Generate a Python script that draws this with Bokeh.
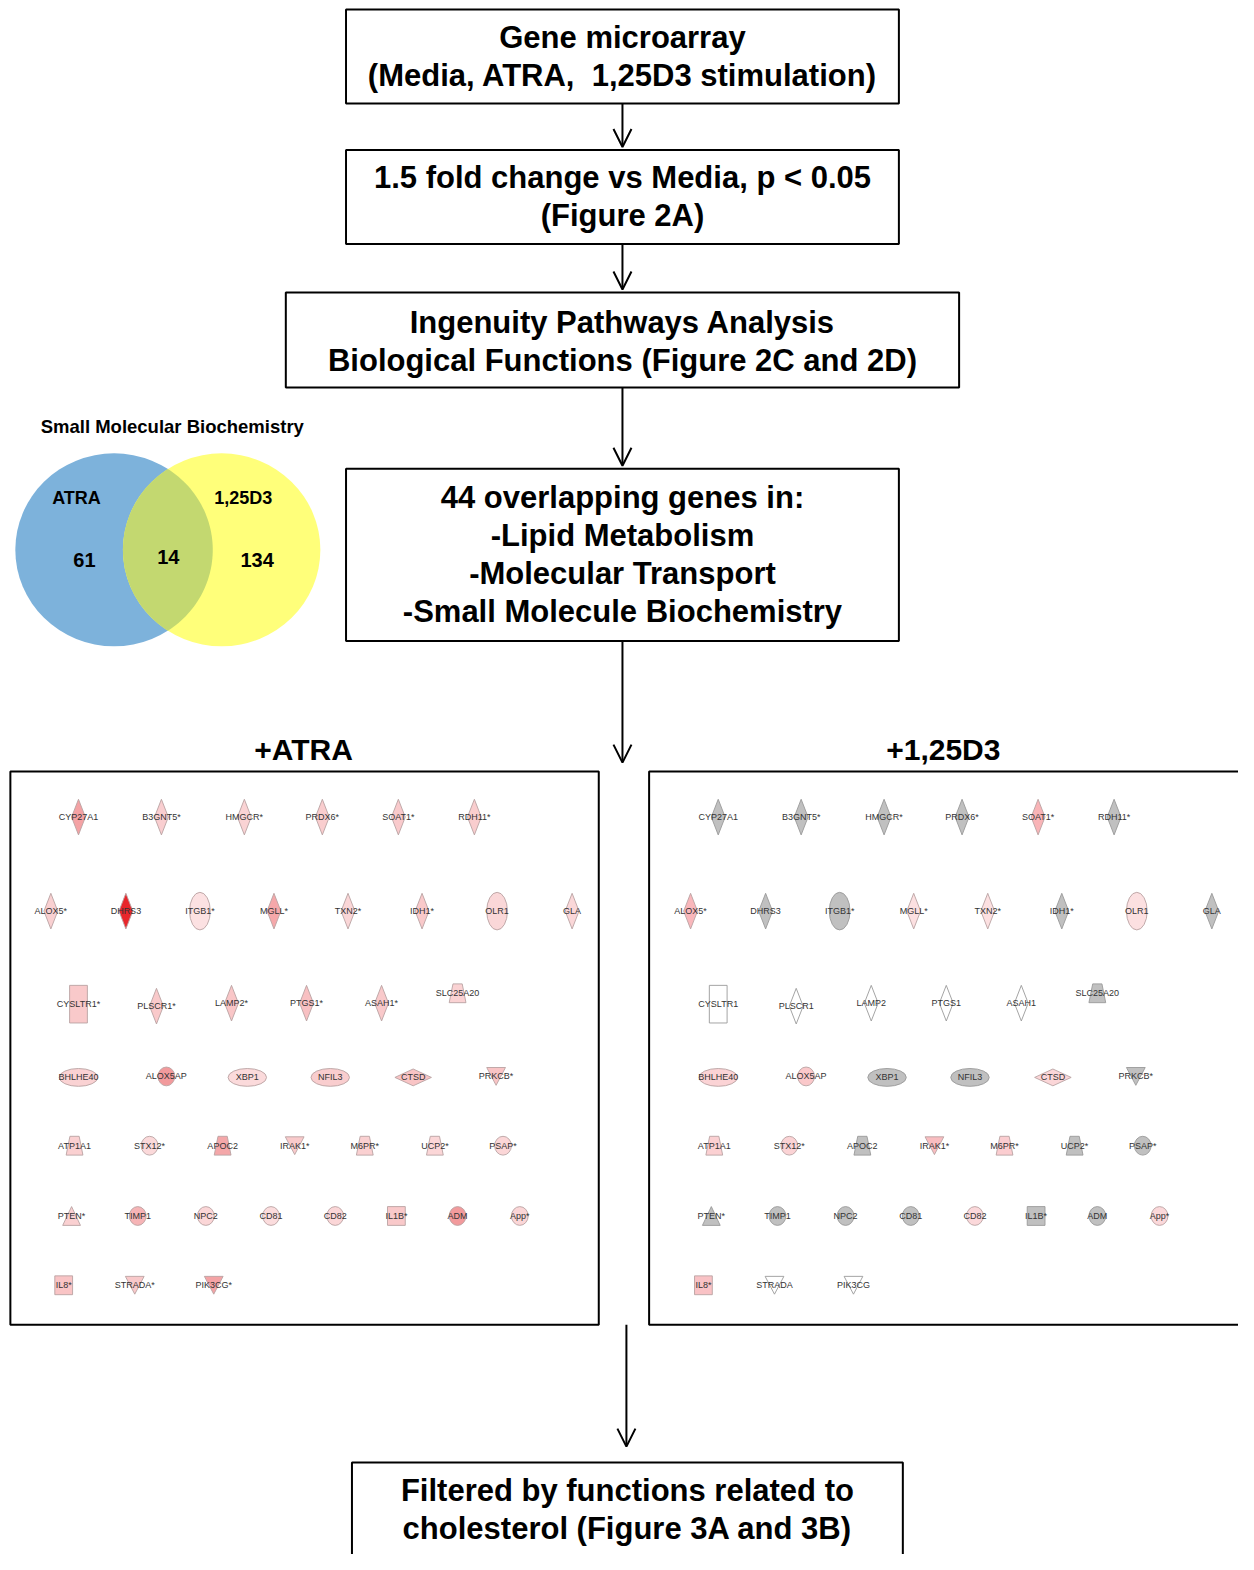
import numpy as np
from bokeh.plotting import figure
from bokeh.models import Range1d, Arrow, OpenHead
from bokeh.embed import file_html
from bokeh.resources import INLINE
from bokeh.core.properties import value

FONT = "Liberation Sans"

# ---------------- data ----------------
FLOW_STEPS = [
    ["Gene microarray", "(Media, ATRA,\u00a0 1,25D3 stimulation)"],
    ["1.5 fold change vs Media, p < 0.05", "(Figure 2A)"],
    ["Ingenuity Pathways Analysis", "Biological Functions (Figure 2C and 2D)"],
    ["44 overlapping genes in:", "-Lipid Metabolism", "-Molecular Transport",
     "-Small Molecule Biochemistry"],
    ["Filtered by functions related to", "cholesterol (Figure 3A and 3B)"],
]
VENN_TITLE = "Small Molecular Biochemistry"
VENN_SETS = ["ATRA", "1,25D3"]
VENN_COUNTS = [61, 14, 134]          # ATRA only, both, 1,25D3 only
PANEL_TITLES = ["+ATRA", "+1,25D3"]

LABELS_ATRA = [
    "CYP27A1", "B3GNT5*", "HMGCR*", "PRDX6*", "SOAT1*", "RDH11*",
    "ALOX5*", "DHRS3", "ITGB1*", "MGLL*", "TXN2*", "IDH1*", "OLR1", "GLA",
    "CYSLTR1*", "PLSCR1*", "LAMP2*", "PTGS1*", "ASAH1*", "SLC25A20",
    "BHLHE40", "ALOX5AP", "XBP1", "NFIL3", "CTSD", "PRKCB*",
    "ATP1A1", "STX12*", "APOC2", "IRAK1*", "M6PR*", "UCP2*", "PSAP*",
    "PTEN*", "TIMP1", "NPC2", "CD81", "CD82", "IL1B*", "ADM", "App*",
    "IL8*", "STRADA*", "PIK3CG*",
]
LABELS_D3 = [
    "CYP27A1", "B3GNT5*", "HMGCR*", "PRDX6*", "SOAT1*", "RDH11*",
    "ALOX5*", "DHRS3", "ITGB1*", "MGLL*", "TXN2*", "IDH1*", "OLR1", "GLA",
    "CYSLTR1", "PLSCR1", "LAMP2", "PTGS1", "ASAH1", "SLC25A20",
    "BHLHE40", "ALOX5AP", "XBP1", "NFIL3", "CTSD", "PRKCB*",
    "ATP1A1", "STX12*", "APOC2", "IRAK1*", "M6PR*", "UCP2*", "PSAP*",
    "PTEN*", "TIMP1", "NPC2", "CD81", "CD82", "IL1B*", "ADM", "App*",
    "IL8*", "STRADA", "PIK3CG",
]
# IPA molecule type shapes
SHAPES = [
    "dt", "dt", "dt", "dt", "dt", "dt",
    "dt", "dt", "ev", "dt", "dt", "dt", "ev", "dt",
    "rv", "dt", "dt", "dt", "dt", "tz",
    "eh", "c", "eh", "eh", "dh", "td",
    "tz", "c", "tz", "td", "tz", "tz", "c",
    "tu", "c", "c", "c", "c", "sq", "c", "c",
    "sq", "td", "td",
]
# node fill colours (expression level) for each treatment
COLORS_ATRA = [
    "#F4A2A4", "#F9CED0", "#FAD3D4", "#F9CDCE", "#F9CACC", "#F9CDCE",
    "#F9D0D1", "#E8262B", "#FCE1E2", "#F5A8AA", "#FAD6D7", "#F9C9CA", "#FAD7D8", "#FAD7D8",
    "#F9C9CA", "#F9C9CA", "#F9C6C7", "#F8C0C2", "#F9C9CA", "#FAD2D3",
    "#FAD2D3", "#F29A9C", "#FBDADB", "#F9CDCE", "#F9C4C5", "#F9C4C5",
    "#FAD0D1", "#FBD9DA", "#F4A7A9", "#F9CACB", "#FAD0D1", "#FBD6D7", "#FBD6D7",
    "#FAD0D1", "#F6B4B6", "#FBD6D7", "#FBDCDD", "#FBD6D7", "#F9C9CA", "#F29A9C", "#FBD6D7",
    "#F9C4C5", "#F9C9CA", "#F4A3A5",
]
G = "#C0C0C0"
W = "#FFFFFF"
COLORS_D3 = [
    G, G, G, G, "#F9B4B7", G,
    "#F9B7BB", G, G, "#FCE0E1", "#FCE0E1", G, "#FCE0E1", G,
    W, W, W, W, W, G,
    "#FBD3D5", "#FAC8CA", G, G, "#FBD6D8", G,
    "#FBD0D2", "#FBD3D5", G, "#F9BDC0", "#FBCDD0", G, G,
    G, G, G, G, "#FBD8DA", G, G, "#FBD8DA",
    "#F9C2C5", W, W,
]

# ---------------- layout ----------------
NODE_X = [
    79, 163, 247, 326, 403, 480,
    51, 127, 202, 277, 352, 427, 503, 579,
    79, 158, 234, 310, 386, 463,
    79, 168, 250, 334, 418, 502,
    75, 151, 225, 298, 369, 440, 509,
    72, 139, 208, 274, 339, 401, 463, 526,
    64, 136, 216,
]
NODE_Y = [
    825, 825, 825, 825, 825, 825,
    920, 920, 920, 920, 920, 920, 920, 920,
    1014, 1016, 1013, 1013, 1013, 1003,
    1088, 1087, 1088, 1088, 1088, 1087,
    1157, 1157, 1157, 1157, 1157, 1157, 1157,
    1228, 1228, 1228, 1228, 1228, 1228, 1228, 1228,
    1298, 1298, 1298,
]
PANEL_LEFT = [10, 657]
PANEL_SHIFT = [0, 648]

SIZES = {"dt": (14, 36), "ev": (21, 38), "rv": (18, 38), "tz": (17, 19),
         "eh": (39, 18), "c": (17, 19), "dh": (37, 17), "td": (19, 18),
         "tu": (18, 19), "sq": (18, 19)}


def shape_poly(kind, x, y, w, h):
    if kind == "dt" or kind == "dh":
        return [x, x + w / 2, x, x - w / 2], [y - h / 2, y, y + h / 2, y]
    if kind in ("rv", "sq"):
        return ([x - w / 2, x + w / 2, x + w / 2, x - w / 2],
                [y - h / 2, y - h / 2, y + h / 2, y + h / 2])
    if kind == "tz":
        t = w * 0.55
        return ([x - t / 2, x + t / 2, x + w / 2, x - w / 2],
                [y - h / 2, y - h / 2, y + h / 2, y + h / 2])
    if kind == "td":
        return [x - w / 2, x + w / 2, x], [y - h / 2, y - h / 2, y + h / 2]
    if kind == "tu":
        return [x, x + w / 2, x - w / 2], [y - h / 2, y + h / 2, y + h / 2]
    return None


W_PX, H_PX = 1238, 1554
p = figure(width=W_PX, height=H_PX, x_range=Range1d(0, 1254),
           y_range=Range1d(1570, 0), output_backend="svg",
           toolbar_location=None, min_border=0)
p.axis.visible = False
p.grid.visible = False
p.outline_line_color = None
p.background_fill_color = "white"

# ---------------- flow boxes ----------------
BOX_L = [350, 350, 289, 350, 356]
BOX_R = [910, 910, 971, 910, 914]
BOX_T = [9, 151, 295, 473, 1477]
BOX_B = [104, 246, 391, 647, 1600]
LINE_Y0 = [37, 179, 325, 502, 1505]
LINE_DY = 38.3
p.quad(left=BOX_L, right=BOX_R, top=BOX_T, bottom=BOX_B, fill_color="white",
       line_color="black", line_width=2)
tx, ty, tt = [], [], []
for i, lines in enumerate(FLOW_STEPS):
    for j, s in enumerate(lines):
        tx.append((BOX_L[i] + BOX_R[i]) / 2)
        ty.append(LINE_Y0[i] + j * LINE_DY)
        tt.append(s)
p.text(x=tx, y=ty, text=tt, text_font=value(FONT), text_font_style="bold",
       text_font_size=value("31px"), text_align="center", text_baseline="middle",
       text_color="black")

# arrows
AR_X = [630, 630, 630, 630, 634]
AR_Y0 = [104, 246, 391, 647, 1338]
AR_Y1 = [148, 292, 470, 770, 1461]
for x, y0, y1 in zip(AR_X, AR_Y0, AR_Y1):
    p.add_layout(Arrow(end=OpenHead(size=18, line_width=2, line_color="black"),
                       x_start=x, y_start=y0, x_end=x, y_end=y1,
                       line_width=2, line_color="black"))

# ---------------- venn ----------------
vcx = [115, 224]
vcy = 555
va, vb = 100, 97.5
p.ellipse(x=[vcx[0]], y=[vcy], width=2 * va, height=2 * vb,
          fill_color="#7DB2DB", line_color=None)
p.ellipse(x=[vcx[1]], y=[vcy], width=2 * va, height=2 * vb,
          fill_color="#FFFF7A", line_color=None)
xm = (vcx[0] + vcx[1]) / 2
t0 = np.arccos((xm - vcx[0]) / va)
t = np.linspace(-t0, t0, 60)
s = np.linspace(np.pi - t0, np.pi + t0, 60)
lx = np.concatenate([vcx[0] + va * np.cos(t), vcx[1] + va * np.cos(s)])
ly = np.concatenate([vcy + vb * np.sin(t), vcy + vb * np.sin(s)])
p.patch(lx, ly, fill_color="#C3D870", line_color=None)
p.text(x=[174], y=[430], text=[VENN_TITLE], text_font=value(FONT),
       text_font_style="bold", text_font_size=value("18.5px"),
       text_align="center", text_baseline="middle", text_color="black")
p.text(x=[77, 246], y=[503, 503], text=VENN_SETS, text_font=value(FONT),
       text_font_style="bold", text_font_size=value("18px"),
       text_align="center", text_baseline="middle", text_color="black")
p.text(x=[85, 170, 260], y=[565, 562, 565], text=[str(c) for c in VENN_COUNTS],
       text_font=value(FONT), text_font_style="bold", text_font_size=value("20px"),
       text_align="center", text_baseline="middle", text_color="black")

# ---------------- network panels ----------------
p.text(x=[307, 955], y=[757, 757], text=PANEL_TITLES, text_font=value(FONT),
       text_font_style="bold", text_font_size=value("30px"),
       text_align="center", text_baseline="middle", text_color="black")
p.quad(left=PANEL_LEFT, right=[606, 1262], top=[779, 779], bottom=[1338, 1338],
       fill_color=None, line_color="black", line_width=2)

for k, (labels, cols) in enumerate([(LABELS_ATRA, COLORS_ATRA), (LABELS_D3, COLORS_D3)]):
    dx = PANEL_SHIFT[k]
    pxs, pys, pcol, pline = [], [], [], []
    ex, ey, ew, eh, ecol, eline = [], [], [], [], [], []
    for i, kind in enumerate(SHAPES):
        x, y = NODE_X[i] + dx, NODE_Y[i]
        w, h = SIZES[kind]
        c = cols[i]
        lc = "#9A9A9A" if c in (G, W) else "#B9A3A3"
        poly = shape_poly(kind, x, y, w, h)
        if poly is None:
            ex.append(x); ey.append(y); ew.append(w); eh.append(h)
            ecol.append(c); eline.append(lc)
        else:
            pxs.append(poly[0]); pys.append(poly[1]); pcol.append(c); pline.append(lc)
    p.patches(xs=pxs, ys=pys, fill_color=pcol, line_color=pline, line_width=0.9)
    p.ellipse(x=ex, y=ey, width=ew, height=eh, fill_color=ecol, line_color=eline,
              line_width=0.9)
    p.text(x=[x + dx for x in NODE_X], y=NODE_Y, text=labels, text_font=value(FONT),
           text_font_size=value("9px"), text_align="center", text_baseline="middle",
           text_color="#333333")

open("out.html", "w").write(file_html(p, INLINE))
